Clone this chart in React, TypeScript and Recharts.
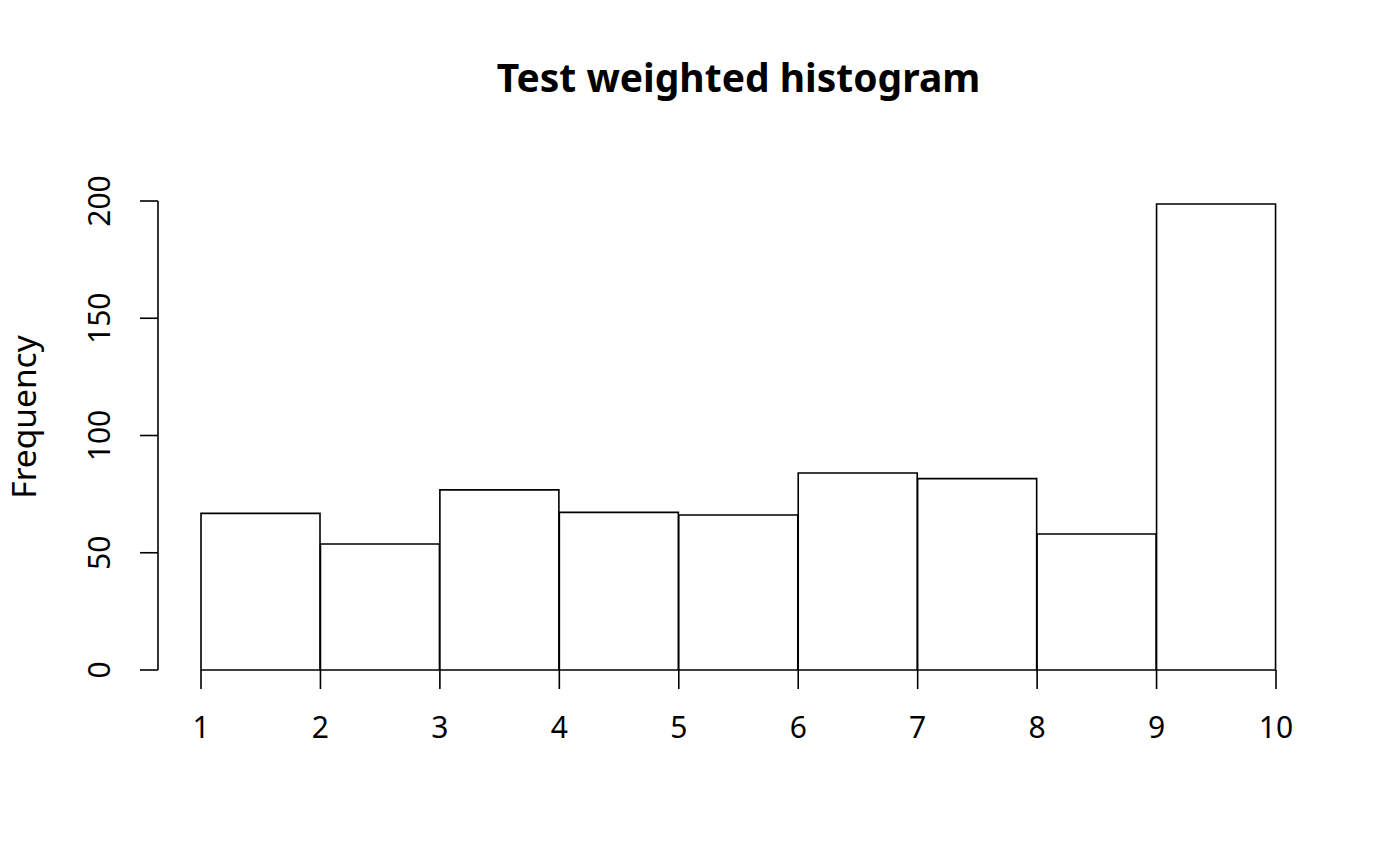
import React from 'react';
import { BarChart, Bar, XAxis, YAxis } from 'recharts';

// bin midpoints (bins of width 1 from 1 to 10) and their weighted counts
const binMids = [1.5, 2.5, 3.5, 4.5, 5.5, 6.5, 7.5, 8.5, 9.5];
const binCounts = [66.8, 53.7, 76.8, 67.2, 66.1, 84.0, 81.6, 58.0, 198.7];
const xTicks = [1, 2, 3, 4, 5, 6, 7, 8, 9, 10];
const yTicks = [0, 50, 100, 150, 200];

const data = binMids.map((mid, i) => ({ mid, count: binCounts[i] }));

const FONT = '"Noto Sans", "Open Sans", sans-serif';

const XTick = ({ x, y, payload }: { x?: number; y?: number; payload?: { value: number } }) => (
  <text x={x} y={y} dy="0.71em" textAnchor="middle" fontSize={30} fontFamily={FONT} fill="#000">
    {payload?.value}
  </text>
);

const YTick = ({ x, y, payload }: { x?: number; y?: number; payload?: { value: number } }) => (
  <text
    x={x}
    y={y}
    transform={`rotate(-90, ${x}, ${y})`}
    textAnchor="middle"
    fontSize={30}
    fontFamily={FONT}
    fill="#000"
  >
    {payload?.value}
  </text>
);

const renderYLabel = () => (
  <text
    x={36}
    y={417}
    transform="rotate(-90, 36, 417)"
    textAnchor="middle"
    fontSize={33.5}
    fontFamily={FONT}
    fill="#000"
  >
    Frequency
  </text>
);

export default function App() {
  return (
    <div style={{ position: 'absolute', left: 0, top: 0, width: 1400, height: 866, background: '#fff' }}>
      <svg width={1400} height={130} style={{ position: 'absolute', left: 0, top: 0 }}>
        <text x={738.5} y={92} textAnchor="middle" fontSize={39} fontWeight="bold" fontFamily={FONT} fill="#000">
          Test weighted histogram
        </text>
      </svg>
      <BarChart
        width={1400}
        height={866}
        data={data}
        margin={{ top: 201, right: 81, bottom: 136, left: 0 }}
        barCategoryGap={0}
        barGap={0}
      >
        <XAxis
          type="number"
          dataKey="mid"
          domain={[0.64, 10.36]}
          ticks={xTicks}
          interval={0}
          allowDataOverflow
          axisLine={false}
          tickLine={{ stroke: '#000', strokeWidth: 1.6 }}
          tickSize={19}
          tickMargin={28}
          height={60}
          tick={<XTick />}
        />
        <YAxis
          type="number"
          domain={[0, 200]}
          ticks={yTicks}
          interval={0}
          width={158}
          axisLine={{ stroke: '#000', strokeWidth: 1.6 }}
          tickLine={{ stroke: '#000', strokeWidth: 1.6 }}
          tickSize={18}
          tickMargin={30}
          tick={<YTick />}
          label={renderYLabel}
        />
        <Bar dataKey="count" fill="#fff" stroke="#000" strokeWidth={1.6} isAnimationActive={false} />
      </BarChart>
    </div>
  );
}
